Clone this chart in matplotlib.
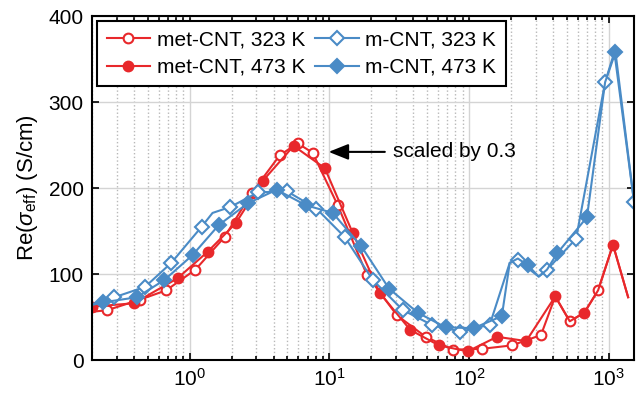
import matplotlib
matplotlib.use("Agg")
import matplotlib.pyplot as plt
import numpy as np

plt.rcParams['font.family'] = ['Liberation Sans', 'DejaVu Sans']
plt.rcParams['mathtext.fontset'] = 'custom'
plt.rcParams['mathtext.rm'] = 'Liberation Sans'
plt.rcParams['mathtext.it'] = 'Liberation Sans:italic'
plt.rcParams['font.size'] = 15

# frequency points and conductivity; mark = 1 where a marker is drawn
met323_f = [0.2, 0.258, 0.438, 0.68, 1.10, 1.78, 2.78, 4.42, 5.94, 7.6, 11.5, 18.6, 30.5, 49, 77,
            124, 203, 328, 415, 527, 670, 841, 1075, 1380]
met323_s = [56, 58, 70, 81, 105, 143, 194, 238, 252, 241, 180, 99, 52, 27, 12,
            13, 17, 29, 74, 45, 55, 81, 134, 73]
met323_m = [0, 1, 1, 1, 1, 1, 1, 1, 1, 1, 1, 1, 1, 1, 1,
            1, 1, 1, 0, 1, 0, 1, 0, 0]

met473_f = [0.2, 0.40, 0.82, 1.35, 2.14, 3.33, 5.56, 9.3, 14.7, 23, 38, 61, 98, 159, 257,
            415, 527, 670, 841, 1075, 1380]
met473_s = [62, 66, 95, 126, 159, 208, 249, 223, 148, 78, 35, 17, 10, 27, 22,
            74, 45, 55, 81, 134, 73]
met473_m = [1, 1, 1, 1, 1, 1, 1, 1, 1, 1, 1, 1, 1, 1, 1,
            1, 0, 1, 0, 1, 0]

m323_f = [0.2, 0.29, 0.48, 0.74, 1.22, 1.46, 1.96, 3.1, 5.0, 8.1, 12.9, 20.5, 33.7, 54, 87,
          141, 196, 224, 316, 362, 585, 944, 1100, 1520]
m323_s = [65, 73, 85, 113, 155, 171, 178, 195, 196, 176, 143, 93, 58, 41, 33,
          41, 113, 116, 97, 105, 141, 323, 358, 184]
m323_m = [0, 1, 1, 1, 1, 0, 1, 1, 1, 1, 1, 1, 1, 1, 1,
          1, 0, 1, 0, 1, 1, 1, 0, 1]

m473_f = [0.2, 0.24, 0.42, 0.66, 1.05, 1.62, 2.6, 4.2, 6.8, 10.6, 17, 26.8, 43, 68, 108,
          172, 196, 224, 265, 316, 362, 428, 700, 944, 1120, 1520]
m473_s = [64, 67, 73, 93, 122, 157, 182, 198, 180, 171, 132, 83, 55, 38, 37,
          51, 113, 118, 110, 97, 105, 124, 166, 323, 358, 184]
m473_m = [0, 1, 1, 1, 1, 1, 1, 1, 1, 1, 1, 1, 1, 1, 1,
          1, 0, 0, 1, 0, 0, 1, 1, 0, 1, 0]

red = '#e8282b'
blue = '#4a8bc6'

fig = plt.figure(figsize=(6.43, 4.0), dpi=100)
ax = fig.add_axes([0.143, 0.1, 0.843, 0.86])

def draw(f, s, m, color, marker, filled, label):
    idx = [i for i, v in enumerate(m) if v]
    ax.plot(f, s, color=color, lw=1.5, marker=marker, markevery=idx,
            ms=7 if marker == 'o' else 7.5,
            mfc=color if filled else 'white', mec=color, mew=1.5, label=label)

draw(met323_f, met323_s, met323_m, red, 'o', False, 'met-CNT, 323 K')
draw(met473_f, met473_s, met473_m, red, 'o', True, 'met-CNT, 473 K')
draw(m323_f, m323_s, m323_m, blue, 'D', False, 'm-CNT, 323 K')
draw(m473_f, m473_s, m473_m, blue, 'D', True, 'm-CNT, 473 K')

ax.set_xscale('log')
ax.set_xlim(0.2, 1520)
ax.set_ylim(0, 400)
ax.set_yticks([0, 100, 200, 300, 400])
ax.set_ylabel(r'Re($\sigma_{\rm eff}$) (S/cm)', fontsize=16, labelpad=6)

ax.grid(True, which='major', color='#d4d4d4', lw=1, ls='-')
ax.grid(True, which='minor', axis='x', color='#b8b8b8', lw=1, ls=':')
ax.set_axisbelow(True)
ax.tick_params(which='both', direction='in', top=True, right=True, width=1.2)
ax.tick_params(which='major', length=5, pad=6)
ax.tick_params(which='minor', length=3)
for sp in ax.spines.values():
    sp.set_linewidth(1.5)

ax.annotate('', xy=(9.9, 242), xytext=(25, 242),
            arrowprops=dict(arrowstyle='-|>,head_length=0.8,head_width=0.32',
                            color='k', lw=1.5, mutation_scale=15,
                            shrinkA=0, shrinkB=0))
ax.text(28.5, 242, 'scaled by 0.3', ha='left', va='center')

leg = ax.legend(ncol=2, loc='upper left', handlelength=2.1, columnspacing=0.5,
                handletextpad=0.3, borderaxespad=0.25, labelspacing=0.4,
                fancybox=False, framealpha=1, edgecolor='black', borderpad=0.45)
leg.get_frame().set_linewidth(1.5)

fig.savefig('out.png', dpi=100)
